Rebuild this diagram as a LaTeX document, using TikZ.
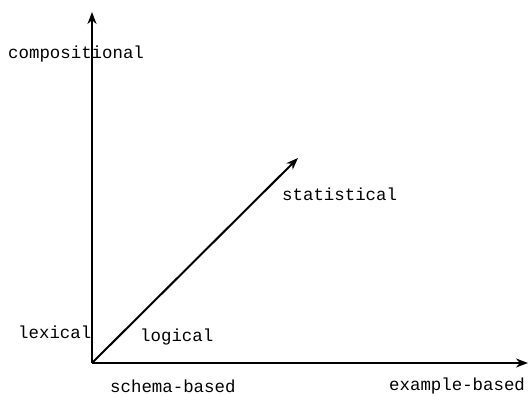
\documentclass[tikz,border=0pt]{standalone}
\usepackage{fontspec}
\setmonofont{Liberation Mono}
\usetikzlibrary{arrows.meta}
\begin{document}
\begin{tikzpicture}[x=1pt,y=1pt,
  axis/.style={line width=2pt,-{Stealth[length=12pt,width=9pt]}},
  lbl/.style={anchor=west,inner sep=0pt,font=\ttfamily\fontsize{17.4}{19}\selectfont}]
\useasboundingbox (0,0) rectangle (528,394);
\coordinate (O) at (92,31);
\coordinate (ytop) at (92,382);
\coordinate (xend) at (528,31);
\coordinate (dend) at (298,236);
\draw[axis] (O) -- (ytop);
\draw[axis] (O) -- (xend);
\draw[axis] (O) -- (dend);
\node[lbl] (comp) at (8,340) {compositional};
\node[lbl] (stat) at (282,200) {statistical};
\node[lbl] (lex) at (18,62) {lexical};
\node[lbl] (log) at (140,57) {logical};
\node[lbl] (schema) at (110,8) {schema-based};
\node[lbl] (example) at (389,8) {example-based};
\end{tikzpicture}
\end{document}
